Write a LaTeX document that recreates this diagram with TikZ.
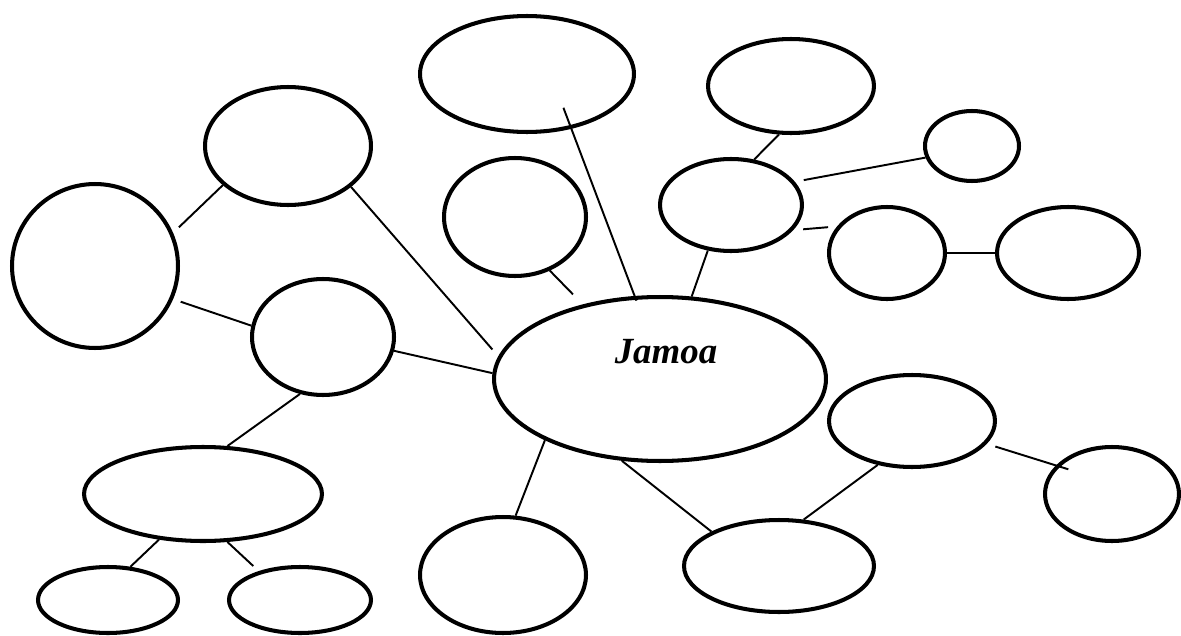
\documentclass[tikz,border=0pt]{standalone}
\usepackage{fontspec}
\setmainfont{Liberation Serif}
\usetikzlibrary{shapes.geometric, positioning}
\tikzset{
    bubble/.style={draw, ellipse, line width=2.3pt, inner sep=0pt},
    link/.style={line width=1.1pt},
    hub/.style={font=\fontsize{21}{25}\selectfont\bfseries\itshape, inner sep=0pt},
}

\begin{document}
\begin{tikzpicture}[x=0.02cm, y=-0.02cm]
    \useasboundingbox (0,0) rectangle (1181,636);

    % Centre
    \node[bubble, minimum width=6.64cm, minimum height=3.28cm] (jamoa) at (660,379) {};
    \node[hub, anchor=base] (jamoaText) at (666,363) {Jamoa};

    % Upper bubbles
    \node[bubble, minimum width=4.28cm, minimum height=2.32cm] (cTop) at (527,74) {};
    \node[bubble, minimum width=2.84cm, minimum height=2.36cm] (cUpper) at (515,217) {};
    \node[bubble, minimum width=3.32cm, minimum height=1.88cm] (cTopR) at (791,86) {};
    \node[bubble, minimum width=1.88cm, minimum height=1.40cm] (cSmallR) at (972,146) {};
    \node[bubble, minimum width=2.84cm, minimum height=1.84cm] (cMidR) at (731,205) {};
    \node[bubble, minimum width=2.32cm, minimum height=1.84cm] (cPairL) at (887,253) {};
    \node[bubble, minimum width=2.84cm, minimum height=1.84cm] (cPairR) at (1068,253) {};

    % Left bubbles
    \node[bubble, minimum width=3.32cm, minimum height=2.36cm] (cTopL) at (288,146) {};
    \node[bubble, minimum width=3.32cm, minimum height=3.28cm] (cBigL) at (95,266) {};
    \node[bubble, minimum width=2.84cm, minimum height=2.32cm] (cMidL) at (323,337) {};
    \node[bubble, minimum width=4.76cm, minimum height=1.88cm] (cWideL) at (203,494) {};
    \node[bubble, minimum width=2.80cm, minimum height=1.32cm] (cLeafL) at (108,600) {};
    \node[bubble, minimum width=2.84cm, minimum height=1.32cm] (cLeafR) at (300,600) {};

    % Lower bubbles
    \node[bubble, minimum width=3.32cm, minimum height=2.32cm] (cBot) at (503,575) {};
    \node[bubble, minimum width=3.80cm, minimum height=1.84cm] (cBotR) at (779,566) {};
    \node[bubble, minimum width=3.32cm, minimum height=1.84cm] (cLowR) at (912,421) {};
    \node[bubble, minimum width=2.68cm, minimum height=1.88cm] (cFarR) at (1112,494) {};

    % Links, left side
    \draw[link, shorten >=1.6mm] (cTopL.211) -- (cBigL.23);
    \draw[link, shorten <=1.6mm] (cBigL.337) -- (cMidL.171);
    \draw[link, shorten >=1.8mm] (cTopL.327) -- (jamoa.172);
    \draw[link] (cMidL.349) -- (jamoa.178);
    \draw[link] (cMidL.248) -- (cWideL.63);
    \draw[link] (cWideL.226) -- (cLeafL.56);
    \draw[link, shorten >=1.5mm] (cWideL.297) -- (cLeafR.145);

    % Links, top
    \draw[link, shorten >=2.8mm] (cUpper.303) -- (jamoa.136);
    \draw[link, shorten <=-4.5mm, shorten >=-1mm] (cTop.309) -- (jamoa.107);
    \draw[link] (cMidR.243) -- (jamoa.69);
    \draw[link] (cTopR.256) -- (cMidR.63);
    \draw[link, shorten <=1.8mm] (cMidR.20) -- (cSmallR.194);
    \draw[link, shorten <=2mm, shorten >=1.8mm] (cMidR.338) -- (cPairL.152);
    \draw[link] (cPairL.east) -- (cPairR.west);

    % Links, bottom
    \draw[link] (jamoa.208) -- (cBot.78);
    \draw[link] (jamoa.245) -- (cBotR.153);
    \draw[link] (cLowR.232) -- (cBotR.62);
    \draw[link, shorten <=1.8mm, shorten >=-2.6mm] (cLowR.343) -- (cFarR.153);
\end{tikzpicture}
\end{document}
